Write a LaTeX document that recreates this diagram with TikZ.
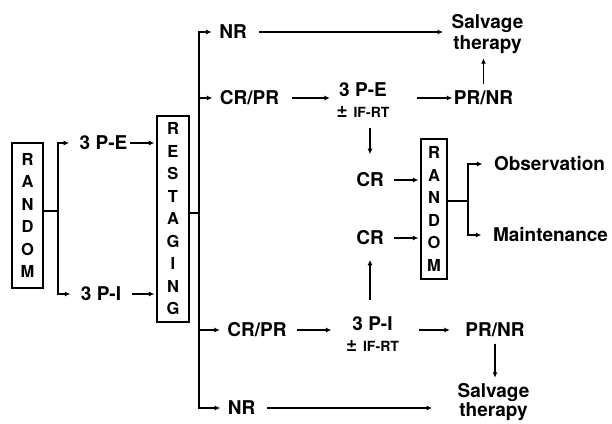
\documentclass[tikz,border=0pt]{standalone}
\usepackage{fontspec}
\setmainfont{TeX Gyre Heros}
\usetikzlibrary{arrows.meta}
\newcommand{\lblsz}{\fontsize{19}{21}\selectfont\bfseries}
\newcommand{\boxsz}{\fontsize{16.5}{22.5}\selectfont\bfseries}
\newcommand{\rtsz}{\fontsize{14}{15}\selectfont\bfseries}
\newcommand{\pmrt}{{\fontsize{19}{15}\selectfont ±}\hspace{6pt}{\rtsz IF-RT}}
\tikzset{
  lbl/.style={font=\lblsz, inner sep=0pt, align=center},
  letterbox/.style={draw, line width=1.2pt, font=\boxsz, align=center, inner sep=0pt},
  arr/.style={-{Latex[length=5.5pt,width=5pt]}},
}

\begin{document}
\begin{tikzpicture}[x=1pt,y=-1pt,line width=1.2pt]
\useasboundingbox (0,0) rectangle (612,423);
% first randomisation
\node[letterbox, minimum width=31pt, minimum height=145pt] (rand1) at (27.5,215.5) {R\\A\\N\\D\\O\\M};
\coordinate (br1) at (58,211);
\node[lbl] (p3e) at (103.5,143) {3 P-E};
\node[lbl] (p3i) at (101,294) {3 P-I};
\node[letterbox, minimum width=32pt, minimum height=206pt] (restage) at (173,219) {R\\E\\S\\T\\A\\G\\I\\N\\G};
\draw (rand1.east |- br1) -- (br1);
\draw[arr, shorten >=10pt] (br1) |- (p3e);
\draw[arr, shorten >=10pt] (br1) |- (p3i);
\draw[arr, shorten <=2pt, shorten >=2pt] (p3e) -- (p3e -| restage.west);
\draw[arr, shorten <=10pt, shorten >=2pt] (p3i) -- (p3i -| restage.west);
% restaging outcomes
\coordinate (br2) at (199,213);
\node[lbl] (nr1) at (233,32) {NR};
\node[lbl] (crpr1) at (249.5,98) {CR/PR};
\node[lbl] (crpr2) at (257,330) {CR/PR};
\node[lbl] (nr2) at (241.5,408) {NR};
\draw (restage.east |- br2) -- (br2);
\draw[arr, shorten >=7pt] (br2) |- (nr1);
\draw[arr, shorten >=7pt] (br2) |- (crpr1);
\draw[arr, shorten >=7pt] (br2) |- (crpr2);
\draw[arr, shorten >=7pt] (br2) |- (nr2);
% upper arm
\node[lbl] (pe2) at (363,100.5) {3 P-E\\[0pt]\pmrt};
\node[lbl] (prnr1) at (483.5,98) {PR/NR};
\node[lbl] (salv1) at (487.5,34) {Salvage\\therapy};
\node[lbl] (crA) at (370,180) {CR};
\draw[arr, shorten <=12pt, shorten >=8pt] (nr1) -- (nr1 -| salv1.west);
\draw[arr, shorten <=12pt, shorten >=6pt] (crpr1) -- (crpr1 -| pe2.west);
\draw[arr, shorten <=27pt, shorten >=1pt] (pe2.east |- prnr1) -- (prnr1);
\draw[arr, shorten <=6pt, shorten >=4pt] (prnr1.north) -- (prnr1.north |- salv1.south);
\draw[arr, shorten <=9pt, shorten >=18pt] (pe2.south -| crA) -- (crA.north);
% lower arm
\node[lbl] (pi2) at (372.5,334) {3 P-I\\[0pt]\pmrt};
\node[lbl] (prnr2) at (495,330) {PR/NR};
\node[lbl] (salv2) at (493.5,402) {Salvage\\[-2pt]therapy};
\node[lbl] (crB) at (370,238) {CR};
\draw[arr, shorten <=10pt, shorten >=14pt] (crpr2) -- (crpr2 -| pi2.west);
\draw[arr, shorten <=19pt, shorten >=15pt] (pi2.east |- prnr2) -- (prnr2);
\draw[arr, shorten <=6pt, shorten >=5pt] (prnr2.south) -- (prnr2.south |- salv2.north);
\draw[arr, shorten <=16pt, shorten >=14pt] (pi2.north -| crB) -- (crB.south);
\draw[arr, shorten <=11pt, shorten >=25pt] (nr2) -- (nr2 -| salv2.west);
% second randomisation
\node[letterbox, minimum width=26pt, minimum height=140pt] (rand2) at (434,209) {R\\A\\N\\D\\O\\M};
\coordinate (br3) at (468,201);
\node[lbl] (obs) at (549.5,164) {Observation};
\node[lbl] (maint) at (550.5,235) {Maintenance};
\draw[arr, shorten <=10pt, shorten >=2pt] (crA) -- (crA -| rand2.west);
\draw[arr, shorten <=10pt, shorten >=2pt] (crB) -- (crB -| rand2.west);
\draw (rand2.east |- br3) -- (br3);
\draw[arr, shorten >=11pt] (br3) |- (obs);
\draw[arr, shorten >=11pt] (br3) |- (maint);
\end{tikzpicture}
\end{document}
